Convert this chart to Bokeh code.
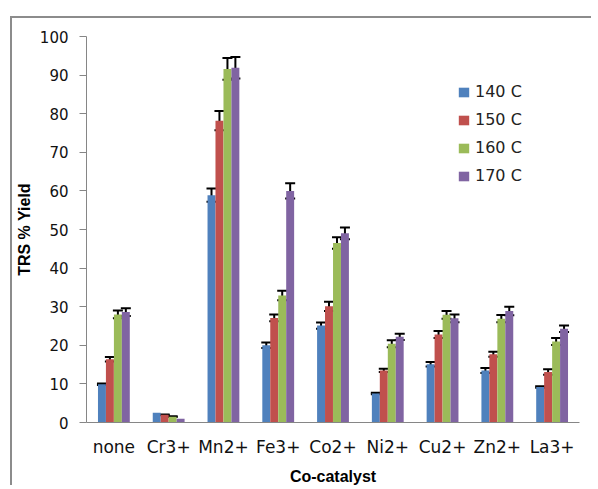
from bokeh.plotting import figure
from bokeh.models import (ColumnDataSource, FactorRange, Whisker, TeeHead, Legend,
                          LegendItem, FixedTicker)
from bokeh.transform import dodge
from bokeh.embed import file_html
from bokeh.resources import INLINE

cats = ["none", "Cr3+", "Mn2+", "Fe3+", "Co2+", "Ni2+", "Cu2+", "Zn2+", "La3+"]
series = ["140 C", "150 C", "160 C", "170 C"]
y140 = [9.9, 2.5, 58.9, 20.0, 25.1, 7.5, 15.1, 13.5, 9.2]
y150 = [16.4, 2.0, 78.2, 27.1, 30.1, 13.5, 22.8, 17.7, 13.1]
y160 = [28.0, 1.5, 91.6, 32.9, 46.5, 20.4, 27.9, 26.9, 21.0]
y170 = [28.6, 1.0, 91.9, 60.0, 49.0, 22.2, 27.0, 28.9, 24.3]
e140 = [0.2, float("nan"), 1.7, 0.7, 0.8, 0.2, 0.6, 0.65, 0.2]
e150 = [0.6, 0.1, 2.5, 0.9, 1.2, 0.4, 0.9, 0.65, 0.7]
e160 = [1.0, 0.1, 2.8, 1.2, 1.5, 0.9, 1.0, 0.95, 0.9]
e170 = [1.0, float("nan"), 2.8, 2.0, 1.5, 0.8, 1.0, 1.1, 0.85]
y_ticks = [0, 10, 20, 30, 40, 50, 60, 70, 80, 90, 100]

colors = ["#4F81BD", "#C0504D", "#9BBB59", "#8064A2"]
vals = [y140, y150, y160, y170]
errs = [e140, e150, e160, e170]
offsets = [-0.218, -0.073, 0.073, 0.218]

p = figure(x_range=FactorRange(*cats, range_padding=0), y_range=(0, 100),
           width=581, height=469, output_backend="svg", toolbar_location=None,
           min_border_left=74, min_border_right=14, min_border_top=18,
           min_border_bottom=64)
p.margin = (18, 0, 0, 12)
p.styles = {"box-shadow": "-2px -2px 0 0 #8c8c8c"}
p.outline_line_color = None
p.xgrid.visible = False
p.ygrid.visible = False

items = []
for name, col, v, e, off in zip(series, colors, vals, errs, offsets):
    src = ColumnDataSource(dict(cat=cats, top=v,
                                up=[a + b for a, b in zip(v, e)],
                                lo=[a - b for a, b in zip(v, e)]))
    r = p.vbar(x=dodge("cat", off, range=p.x_range), top="top", width=0.145,
               source=src, fill_color=col, line_color=None)
    w = Whisker(base=dodge("cat", off, range=p.x_range), upper="up", lower="lo",
                source=src, line_color="black", line_width=2,
                upper_head=TeeHead(size=10, line_width=2, line_color="black"),
                lower_head=TeeHead(size=10, line_width=2, line_color="black"))
    p.add_layout(w)
    items.append(LegendItem(label=name, renderers=[r]))

legend = Legend(items=items, location=(371, 237), padding=0, margin=0,
                border_line_alpha=0, background_fill_alpha=0,
                glyph_width=13, glyph_height=12, spacing=9, label_standoff=5,
                label_text_font="DejaVu Sans", label_text_font_size="16px",
                label_text_color="#222222")
p.add_layout(legend, "center")

for ax in (p.xaxis[0], p.yaxis[0]):
    ax.axis_line_color = "#868686"
    ax.major_tick_line_color = "#868686"
    ax.minor_tick_line_color = None
    ax.major_label_text_color = "#111111"
    ax.axis_label_text_font = "Liberation Sans"
    ax.axis_label_text_font_style = "bold"
    ax.axis_label_text_font_size = "16px"
    ax.axis_label_text_color = "#000000"

p.yaxis.ticker = FixedTicker(ticks=y_ticks)
p.yaxis.major_tick_out = 7
p.yaxis.major_tick_in = 0
p.yaxis.major_label_text_font = "DejaVu Sans"
p.yaxis.major_label_text_font_size = "15px"
p.yaxis.major_label_standoff = 11
p.yaxis.axis_label = "TRS % Yield"
p.yaxis.axis_label_standoff = 4

p.xaxis.major_tick_out = 0
p.xaxis.major_tick_in = 0
p.xaxis.major_label_text_font = "DejaVu Sans"
p.xaxis.major_label_text_font_size = "17px"
p.xaxis.major_label_standoff = 14
p.xaxis.axis_label = "Co-catalyst"
p.xaxis.axis_label_standoff = 8

open("out.html", "w").write(file_html(p, INLINE))
